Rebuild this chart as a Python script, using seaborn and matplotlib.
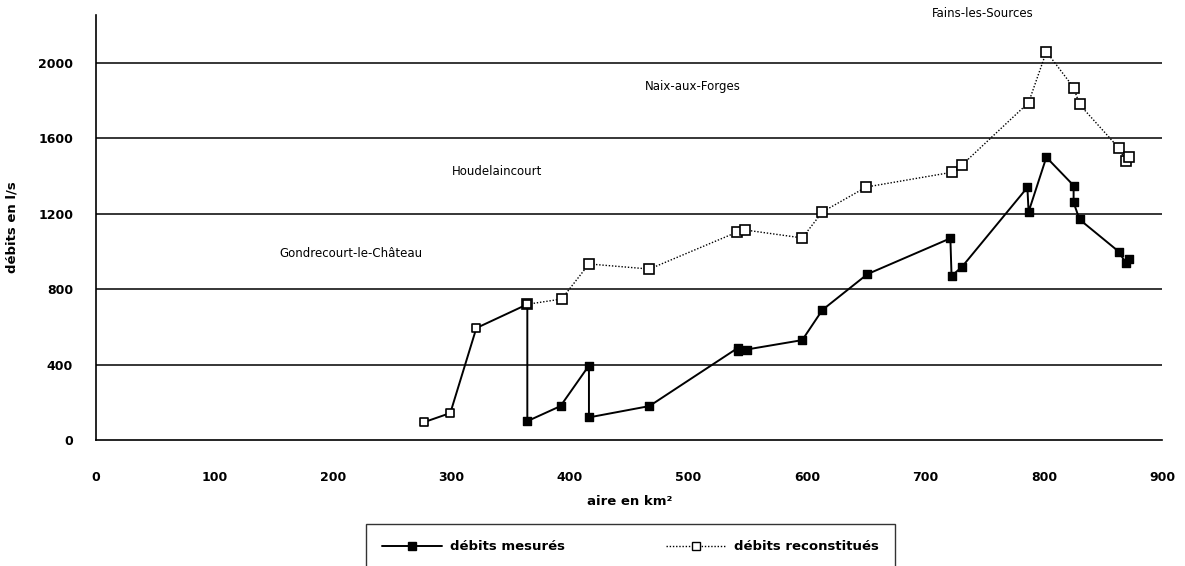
import matplotlib
matplotlib.use("Agg")
import matplotlib.pyplot as plt
import seaborn as sns
import pandas as pd
from matplotlib.lines import Line2D

# --- data ---
amont_aire = [277, 299, 321, 364]
amont_debit = [95, 143, 594, 720]

mes_aire = [364, 392, 416, 416, 467, 542, 542, 549, 596, 613, 651, 721, 722, 731,
            786, 787, 802, 825, 825, 830, 863, 869, 872]
mes_debit = [100, 180, 395, 120, 180, 490, 470, 480, 530, 690, 880, 1070, 870, 920,
             1340, 1210, 1500, 1350, 1260, 1170, 1000, 940, 960]

rec_aire = [364, 393, 416, 467, 541, 548, 596, 613, 650, 722, 731, 787, 802,
            825, 830, 863, 869, 872]
rec_debit = [720, 748, 934, 907, 1103, 1114, 1072, 1210, 1342, 1420, 1460, 1790, 2060,
             1870, 1780, 1550, 1480, 1500]

stations = ["Fains-les-Sources", "Naix-aux-Forges", "Houdelaincourt", "Gondrecourt-le-Château"]
station_x = [705, 463, 300, 155]
station_y = [2260, 1873, 1427, 987]

y_ticks = [0, 400, 800, 1200, 1600, 2000]
x_ticks = [0, 100, 200, 300, 400, 500, 600, 700, 800, 900]

sns.set_style("white")
plt.rcParams['font.family'] = ['DejaVu Sans']
plt.rcParams['text.color'] = 'black'
plt.rcParams['axes.labelcolor'] = 'black'
plt.rcParams['xtick.color'] = 'black'
plt.rcParams['ytick.color'] = 'black'

fig = plt.figure(figsize=(11.85, 5.66), dpi=100)
ax = fig.add_axes([0.081, 0.2226, 0.900, 0.751])

solid_df = pd.DataFrame({"aire": amont_aire + mes_aire, "debit": amont_debit + mes_debit})
amont_df = pd.DataFrame({"aire": amont_aire, "debit": amont_debit})
mes_df = pd.DataFrame({"aire": mes_aire, "debit": mes_debit})
rec_df = pd.DataFrame({"aire": rec_aire, "debit": rec_debit})

for yv in y_ticks[1:]:
    ax.axhline(yv, color="black", lw=1.1, zorder=1)

sns.lineplot(data=rec_df, x="aire", y="debit", sort=False, estimator=None, ax=ax,
             color="black", lw=1.0, linestyle=(0, (1, 1.3)), marker="s", markersize=6.5,
             markerfacecolor="white", markeredgecolor="black", markeredgewidth=1.2, zorder=3)
sns.lineplot(data=solid_df, x="aire", y="debit", sort=False, estimator=None, ax=ax,
             color="black", lw=1.4, zorder=4)
sns.scatterplot(data=amont_df, x="aire", y="debit", ax=ax, marker="s", s=40,
                facecolor="white", edgecolor="black", linewidth=1.2, zorder=5)
sns.scatterplot(data=mes_df, x="aire", y="debit", ax=ax, marker="s", s=40,
                color="black", edgecolor="black", linewidth=1.0, zorder=5)

ax.set_xlim(0, 900)
ax.set_ylim(0, 2255)
ax.set_xticks(x_ticks)
ax.set_yticks(y_ticks)
ax.set_xticklabels([str(v) for v in x_ticks], fontsize=9, fontweight="bold")
ax.set_yticklabels([str(v) for v in y_ticks], fontsize=9, fontweight="bold")
ax.tick_params(axis="x", direction="inout", length=5, width=1, color="black", pad=20)
ax.tick_params(axis="y", direction="inout", length=5, width=1, color="black", pad=14)
for s in ["top", "right"]:
    ax.spines[s].set_visible(False)
for s in ["left", "bottom"]:
    ax.spines[s].set_color("black")
    ax.spines[s].set_linewidth(1.2)

ax.set_xlabel("aire en km²", fontsize=9.5, fontweight="bold", labelpad=8)
ax.set_ylabel("débits en l/s", fontsize=9.5, fontweight="bold", labelpad=14)

for name, sx, sy in zip(stations, station_x, station_y):
    ax.text(sx, sy, name, fontsize=8.5, ha="left", va="center", clip_on=False)

handles = [
    Line2D([0], [0], color="black", lw=1.4, marker="s", markersize=6,
           markerfacecolor="black", markeredgecolor="black"),
    Line2D([0], [0], color="black", lw=1.0, linestyle=(0, (1, 1.3)), marker="s", markersize=6,
           markerfacecolor="white", markeredgecolor="black"),
]
leg = fig.legend(handles, ["débits mesurés", "débits reconstitués"], loc="upper center",
                 bbox_to_anchor=(0.532, 0.085), ncol=2, frameon=True, fancybox=False,
                 edgecolor="black", handlelength=4.6, handletextpad=0.6, columnspacing=7.6,
                 borderpad=1.2, prop={"weight": "bold", "size": 9.5})
leg.get_frame().set_linewidth(1.0)

fig.savefig("out.png", dpi=100)
